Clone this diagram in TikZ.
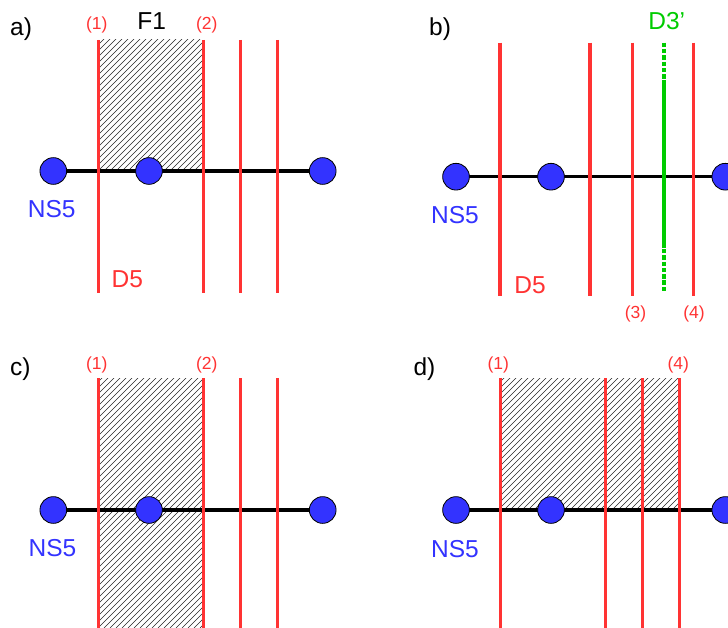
\documentclass[tikz,border=0pt]{standalone}
\usepackage{fontspec}
\setmainfont{Liberation Sans}
\definecolor{dred}{RGB}{255,51,51}
\definecolor{nsblue}{RGB}{51,51,255}
\definecolor{dgreen}{RGB}{0,204,0}
\begin{document}
\begin{tikzpicture}[x=1pt,y=-1pt,
  ns/.style={circle,fill=nsblue,draw=black,line width=0.8pt,minimum size=26.7pt,inner sep=0pt},
  rod/.style={line width=3.5pt,black},
  dfive/.style={line width=3.4pt,dred},
  dthree/.style={line width=4pt,dgreen},
  dthreedash/.style={line width=4pt,dgreen,dash pattern=on 4.5pt off 1.8pt},
  big/.style={font=\fontsize{24.5}{28}\selectfont,inner sep=0pt,anchor=base},
  small/.style={font=\fontsize{17.5}{20}\selectfont,inner sep=0pt,anchor=base,text=dred},
  hatch/.style={line width=0.65pt,black!85}]
\useasboundingbox (0,0) rectangle (728,628);
\clip (0,0) rectangle (728,628);

% ---------------- hatched regions ----------------
\begin{scope}
  \clip (98.3,40) rectangle (203.3,171);
  \foreach \k in {-40,-34,...,210} \draw[hatch] (\k,171) -- ++(140,-140);
\end{scope}
\begin{scope}
  \clip (98.3,378.3) rectangle (203.3,628);
  \foreach \k in {-160,-154,...,210} \draw[hatch] (\k,628) -- ++(260,-260);
\end{scope}
\begin{scope}
  \clip (500.7,378.3) rectangle (679.3,510);
  \foreach \k in {360,366,...,690} \draw[hatch] (\k,510) -- ++(140,-140);
\end{scope}

% ---------------- panel a ----------------
\coordinate (a1) at (53.3,171);
\coordinate (a2) at (149,171);
\coordinate (a3) at (322.7,171);
\draw[rod] (a1) -- (a2) -- (a3);
\foreach \x in {98.3,203.3,240.7,277.3} \draw[dfive] (\x,40) -- (\x,292.7);
\node[ns] (na1) at (a1) {};
\node[ns] (na2) at (a2) {};
\node[ns] (na3) at (a3) {};
\node[big,anchor=base west] (lblA) at (10,36) {a)};
\node[small] (a-one) at (96.7,29.3) {(1)};
\node[small] (a-two) at (206.7,29.3) {(2)};
\node[big] (a-F) at (151.7,30) {F1};
\node[big,text=nsblue] (a-ns) at (51.7,217.3) {NS5};
\node[big,text=dred] (a-d5) at (127.3,287.3) {D5};

% ---------------- panel b ----------------
\coordinate (b1) at (456,176.7);
\coordinate (b2) at (551,176.7);
\coordinate (b3) at (725.3,176.7);
\draw[rod] (b1) -- (b2) -- (b3);
\foreach \x in {500,590,632.3,693.3} \draw[dfive] (\x,42.7) -- (\x,296);
\draw[dthreedash] (664,42.7) -- (664,81);
\draw[dthree] (664,81) -- (664,248);
\draw[dthreedash] (664,249) -- (664,291);
\node[ns] (nb1) at (b1) {};
\node[ns] (nb2) at (b2) {};
\node[ns] (nb3) at (b3) {};
\node[big,anchor=base west] (lblB) at (429,36) {b)};
\node[big,text=dgreen] (b-d3) at (666.7,30) {D3'};
\node[big,text=nsblue] (b-ns) at (455,224) {NS5};
\node[big,text=dred] (b-d5) at (530,293.3) {D5};
\node[small] (b-three) at (635.5,319) {(3)};
\node[small] (b-four) at (694,319) {(4)};

% ---------------- panel c ----------------
\coordinate (c1) at (53.3,510);
\coordinate (c2) at (149,510);
\coordinate (c3) at (322.7,510);
\draw[rod] (c1) -- (c2) -- (c3);
\foreach \x in {98.3,203.3,240.7,277.3} \draw[dfive] (\x,378.3) -- (\x,630);
\node[ns] (nc1) at (c1) {};
\node[ns] (nc2) at (c2) {};
\node[ns] (nc3) at (c3) {};
\node[big,anchor=base west] (lblC) at (10,375) {c)};
\node[small] (c-one) at (96.7,369.3) {(1)};
\node[small] (c-two) at (206.7,369.3) {(2)};
\node[big,text=nsblue] (c-ns) at (52.5,556.7) {NS5};

% ---------------- panel d ----------------
\coordinate (d1) at (456,510);
\coordinate (d2) at (551,510);
\coordinate (d3) at (725.3,510);
\draw[rod] (d1) -- (d2) -- (d3);
\foreach \x in {500.7,605.7,642.7,679.3} \draw[dfive] (\x,378.3) -- (\x,630);
\node[ns] (nd1) at (d1) {};
\node[ns] (nd2) at (d2) {};
\node[ns] (nd3) at (d3) {};
\node[big,anchor=base west] (lblD) at (413.3,375) {d)};
\node[small] (d-one) at (498.3,369.3) {(1)};
\node[small] (d-four) at (678.3,369.3) {(4)};
\node[big,text=nsblue] (d-ns) at (455,557.3) {NS5};
\end{tikzpicture}
\end{document}
